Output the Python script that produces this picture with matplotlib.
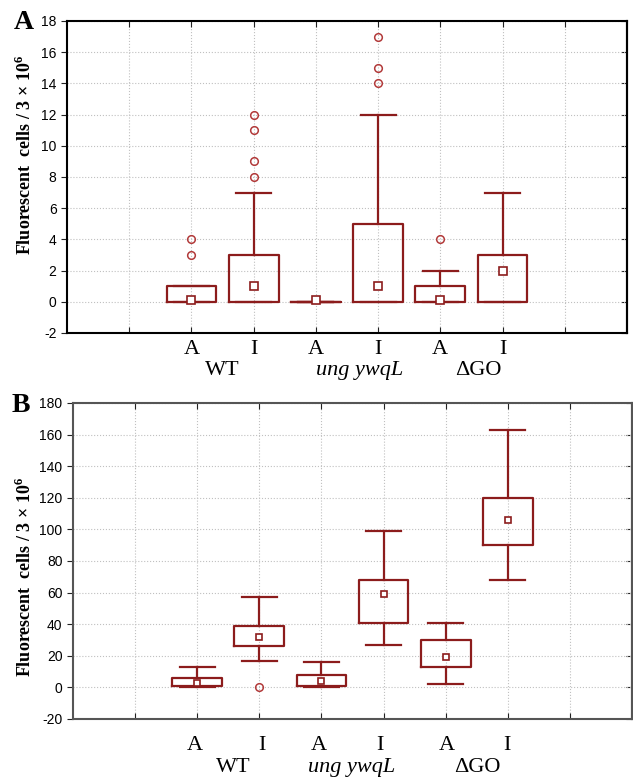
import matplotlib.pyplot as plt

plt.rcParams['mathtext.fontset'] = 'custom'
plt.rcParams['mathtext.rm'] = 'Liberation Serif:bold'
plt.rcParams['mathtext.bf'] = 'Liberation Serif:bold'

# categorias
conditions = ["A", "I", "A", "I", "A", "I"]
groups = ["WT", "ung ywqL", "\u0394GO"]
group_styles = ["normal", "italic", "normal"]

# Panel A (q1, q3, mediana, bigote inferior, bigote superior, atipicos)
a_q1 = [0, 0, 0, 0, 0, 0]
a_q3 = [1, 3, 0, 5, 1, 3]
a_med = [0.1, 1, 0.1, 1, 0.1, 2]
a_lo = [0, 0, 0, 0, 0, 0]
a_hi = [1, 7, 0, 12, 2, 7]
a_fliers = [[3, 4], [8, 9, 11, 12], [], [14, 15, 17], [4], []]
a_yticks = list(range(-2, 19, 2))

# Panel B
b_q1 = [1, 26, 1, 41, 13, 90]
b_q3 = [6, 39, 8, 68, 30, 120]
b_med = [2.5, 32, 4, 59, 19, 106]
b_lo = [0, 17, 0, 27, 2, 68]
b_hi = [13, 57, 16, 99, 41, 163]
b_fliers = [[], [0], [], [], [], []]
b_yticks = list(range(-20, 181, 20))

box_color = '#8c1c1c'
flier_color = '#b23a3a'
ylabel = 'Fluorescent  cells / 3 \u00d7 10$^{6}$'

fig = plt.figure(figsize=(6.33, 7.77), dpi=100)


def make_stats(q1, q3, med, lo, hi, fliers):
    stats = []
    for i in range(len(q1)):
        stats.append(dict(q1=q1[i], q3=q3[i], med=med[i], mean=med[i],
                          whislo=lo[i], whishi=hi[i], fliers=fliers[i]))
    return stats


def panel(rect, stats, yticks, spine_color, label_y, group_y, cond_x, group_x, msize):
    ax = fig.add_axes(rect)
    ax.bxp(stats, positions=[2, 3, 4, 5, 6, 7], widths=0.8,
           showmeans=True, showfliers=True, manage_ticks=False,
           boxprops=dict(color=box_color, linewidth=1.6),
           whiskerprops=dict(color=box_color, linewidth=1.6),
           capprops=dict(color=box_color, linewidth=1.6),
           capwidths=0.56,
           medianprops=dict(linewidth=0),
           meanprops=dict(marker='s', markersize=msize, markerfacecolor='white',
                          markeredgecolor=box_color, markeredgewidth=1.2),
           flierprops=dict(marker='o', markersize=5.5, markerfacecolor='none',
                           markeredgecolor=flier_color, markeredgewidth=1.1))
    ax.set_xlim(0, 9)
    ax.set_ylim(yticks[0], yticks[-1])
    ax.set_xticks(range(1, 9))
    ax.set_yticks(yticks)
    ax.set_yticklabels([str(t) for t in yticks], fontfamily='Liberation Sans',
                       fontsize=10)
    ax.grid(True, linestyle=':', color='#c0c0c0', linewidth=0.8)
    ax.set_axisbelow(True)
    ax.tick_params(axis='x', direction='in', top=True, bottom=True, length=4,
                   labelbottom=False, color='#222222')
    ax.tick_params(axis='y', direction='out', length=4, color='#222222')
    for s in ax.spines.values():
        s.set_color(spine_color)
        s.set_linewidth(1.5)
    sec = ax.secondary_yaxis('right')
    sec.set_yticks(yticks)
    sec.tick_params(direction='in', length=4, labelright=False, color='#222222')
    sec.spines['right'].set_color(spine_color)
    sec.spines['right'].set_linewidth(1.5)

    tr = ax.get_xaxis_transform()
    for x, c in zip(cond_x, conditions):
        ax.text(x, label_y, c, transform=tr, ha='center', va='baseline',
                fontfamily='Liberation Serif', fontsize=16)
    for x, g, st in zip(group_x, groups, group_styles):
        ax.text(x, group_y, g, transform=tr, ha='center', va='baseline',
                fontfamily='Liberation Serif', fontsize=16, fontstyle=st)
    return ax


ax_a = panel([67 / 633, 1 - 333 / 777, 560 / 633, 312 / 777],
             make_stats(a_q1, a_q3, a_med, a_lo, a_hi, a_fliers), a_yticks,
             'black', -0.066, -0.136,
             [2, 3, 4, 5, 6, 7], [2.49, 4.71, 6.61], 6)
ax_b = panel([73 / 633, 1 - 719 / 777, 559 / 633, 316 / 777],
             make_stats(b_q1, b_q3, b_med, b_lo, b_hi, b_fliers), b_yticks,
             '#555555', -0.098, -0.168,
             [1.96, 3.04, 3.96, 4.94, 6.02, 6.99], [2.58, 4.49, 6.51], 4.5)

# etiquetas del eje y y letras de panel
fig.text(25 / 633, 1 - 155 / 777, ylabel, rotation=90, ha='center', va='center',
         fontfamily='Liberation Serif', fontweight='bold', fontsize=13)
fig.text(25 / 633, 1 - 577 / 777, ylabel, rotation=90, ha='center', va='center',
         fontfamily='Liberation Serif', fontweight='bold', fontsize=13)
fig.text(14 / 633, 1 - 29 / 777, 'A', fontfamily='Liberation Serif',
         fontweight='bold', fontsize=20)
fig.text(12 / 633, 1 - 412 / 777, 'B', fontfamily='Liberation Serif',
         fontweight='bold', fontsize=20)

plt.savefig('out.png', dpi=100)
